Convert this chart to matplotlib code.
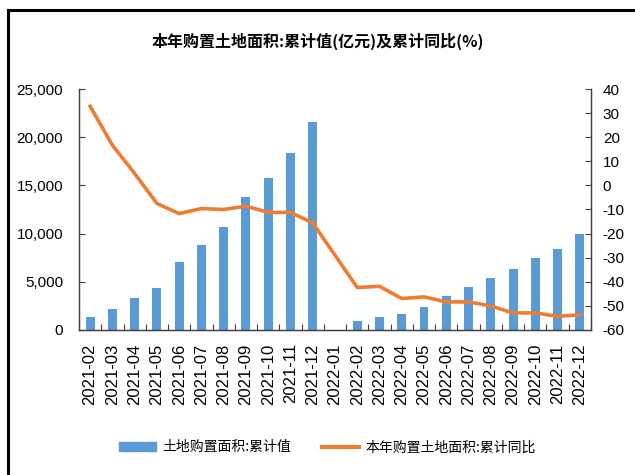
import matplotlib.pyplot as plt
import matplotlib.ticker as mticker
from matplotlib import font_manager
from matplotlib.lines import Line2D
import numpy as np

plt.rcParams['axes.unicode_minus'] = False
plt.rcParams['font.family'] = ['Liberation Sans', 'DejaVu Sans']
cjk = ['Noto Sans CJK SC', 'DejaVu Sans']

# narrow font for the y tick labels if one is installed
names = {f.name for f in font_manager.fontManager.ttflist}
if 'Liberation Sans Narrow' in names:
    ynum = dict(family='Liberation Sans Narrow', size=12.5)
else:
    ynum = dict(family='Liberation Sans', size=11)

months = ['2021-02', '2021-03', '2021-04', '2021-05', '2021-06', '2021-07',
          '2021-08', '2021-09', '2021-10', '2021-11', '2021-12', '2022-01',
          '2022-02', '2022-03', '2022-04', '2022-05', '2022-06', '2022-07',
          '2022-08', '2022-09', '2022-10', '2022-11', '2022-12']
area = [1315, 2150, 3236, 4311, 6994, 8800, 10680, 13779, 15762, 18372, 21608, np.nan,
        835, 1253, 1600, 2296, 3476, 4447, 5386, 6326, 7411, 8351, 9979]
yoy = [33.0, 16.8, 5.0, -7.5, -11.7, -9.6, -10.0, -8.6, -11.2, -11.2, -15.6, np.nan,
       -42.5, -42.0, -47.1, -46.4, -48.5, -48.5, -50.2, -53.1, -53.1, -54.5, -53.9]

title = '本年购置土地面积:累计值(亿元)及累计同比(%)'
bar_name = '土地购置面积:累计值'
line_name = '本年购置土地面积:累计同比'

bar_color = '#5B9BD5'
line_color = '#ED7D31'

fig = plt.figure(figsize=(6.35, 4.75), dpi=100)
ax = fig.add_axes([0.1244, 0.3063, 0.8063, 0.5053])
ax2 = ax.twinx()

x = np.arange(len(months))
ax.bar(x, area, width=0.4, color=bar_color, zorder=2)

yoy_arr = np.array(yoy)
ok = ~np.isnan(yoy_arr)
ax2.plot(x[ok], yoy_arr[ok], color=line_color, lw=2.6, solid_joinstyle='round')

ax.set_xlim(-0.5, len(months) - 0.5)
ax.set_ylim(0, 25000)
ax.set_yticks(np.arange(0, 25001, 5000))
ax.yaxis.set_major_formatter(mticker.FuncFormatter(lambda v, p: f'{int(v):,}'))
ax2.set_ylim(-60, 40)
ax2.set_yticks(np.arange(-60, 41, 10))

ax.set_xticks(x)
ax.set_xticklabels(months, rotation=90, fontsize=12)
ax.set_xticks(np.arange(-0.5, len(months), 1), minor=True)
ax.tick_params(axis='x', which='major', length=0, pad=10)
ax.tick_params(axis='x', which='minor', direction='in', length=4, width=0.8, color='#404040')
ax.tick_params(axis='y', direction='in', length=4, width=0.8, pad=11.5, color='#404040')
ax2.tick_params(axis='y', direction='in', length=4, width=0.8, pad=8.5, color='#404040')
for lab in ax.get_yticklabels() + ax2.get_yticklabels():
    lab.set_fontfamily(ynum['family'])
    lab.set_fontsize(ynum['size'])

for a in (ax, ax2):
    a.spines['top'].set_visible(False)
    for s in ('left', 'right', 'bottom'):
        a.spines[s].set_color('#404040')
        a.spines[s].set_linewidth(0.9)

fig.text(0.5, 0.912, title, ha='center', va='center', fontsize=11.5,
         fontweight='bold', family=cjk)

handles = [plt.Rectangle((0, 0), 1, 1, color=bar_color),
           Line2D([0], [0], color=line_color, lw=3)]
fig.legend(handles, [bar_name, line_name], loc='center', bbox_to_anchor=(0.5157, 0.058),
           ncol=2, frameon=False, prop={'family': cjk, 'size': 10},
           handlelength=2.7, handleheight=0.6, columnspacing=2.2, handletextpad=0.45)

# outer frame (left and top edges visible)
fig.add_artist(Line2D([8 / 635, 8 / 635], [0, 1 - 10 / 475], color='black', lw=2.2,
                      transform=fig.transFigure))
fig.add_artist(Line2D([8 / 635, 1], [1 - 10 / 475, 1 - 10 / 475], color='black', lw=2.2,
                      transform=fig.transFigure))

fig.savefig('out.png', dpi=100)
